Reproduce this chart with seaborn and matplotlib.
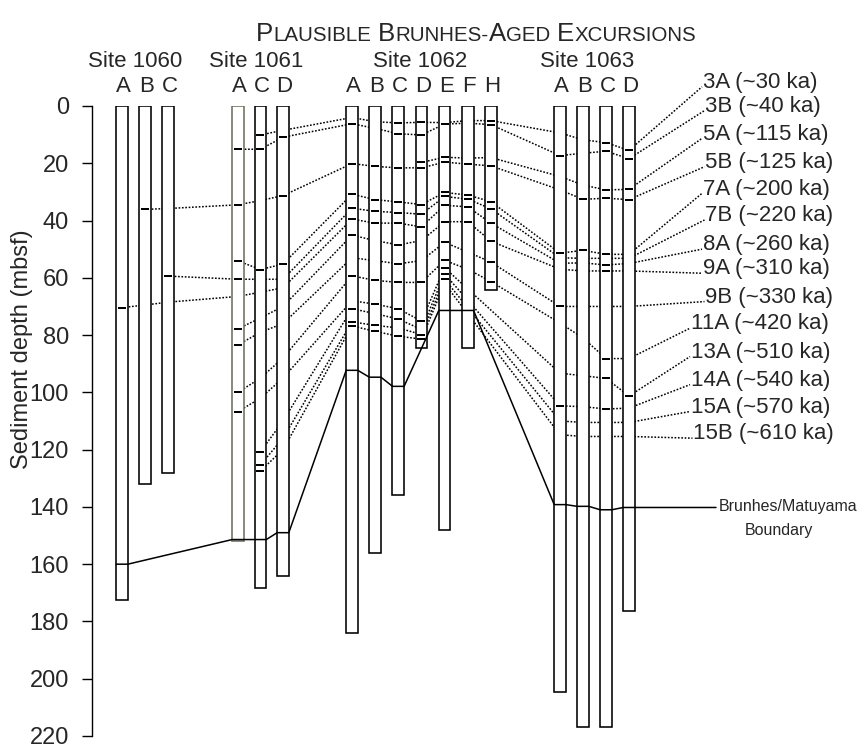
import numpy as np
import pandas as pd
import matplotlib
matplotlib.use("Agg")
import matplotlib.pyplot as plt
import seaborn as sns

sns.set_style("white")
plt.rcParams['font.family'] = ['Liberation Sans', 'DejaVu Sans']

# ---------------- data ----------------
sites = ["Site 1060", "Site 1061", "Site 1062", "Site 1063"]
site_holes = [["A", "B", "C"], ["A", "C", "D"],
              ["A", "B", "C", "D", "E", "F", "H"], ["A", "B", "C", "D"]]
holes = ["1060A", "1060B", "1060C", "1061A", "1061C", "1061D",
         "1062A", "1062B", "1062C", "1062D", "1062E", "1062F", "1062H",
         "1063A", "1063B", "1063C", "1063D"]
hole_bottom = [172.5, 132, 128, 152, 168.2, 164.3,
               184, 156, 136, 84.5, 148, 84.5, 64.4,
               204.5, 217, 217, 176.5]

# Brunhes/Matuyama boundary depth in each hole (None = not drawn)
bm_depth = [160, None, None, 151.4, 151.4, 149,
            92.3, 94.7, 97.9, None, 71.4, 71.4, None,
            139.2, 139.8, 141, 140.2]
bm_end_depth = 140.2

exc_labels = ["3A (~30 ka)", "3B (~40 ka)", "5A (~115 ka)", "5B (~125 ka)",
              "7A (~200 ka)", "7B (~220 ka)", "8A (~260 ka)", "9A (~310 ka)",
              "9B (~330 ka)", "11A (~420 ka)", "13A (~510 ka)", "14A (~540 ka)",
              "15A (~570 ka)", "15B (~610 ka)"]
label_depth = [-6.7, 1.6, 11.3, 21.2, 30.5, 39.8, 50.0, 58.4, 68.3, 77.6,
               87.5, 97.3, 106.7, 116.0]

n = None
# excursion depth in each hole (order as in `holes`)
d_3A  = [n, n, n, n, 10.1, 8.5, 4.0, 5.5, 5.9, 5.7, 5.8, 5.1, 5.1, 9.4, 11.8, 12.8, 15.5]
d_3B  = [n, n, n, 15.1, 15.1, 10.9, 6.2, 7.8, 9.7, 10.1, 6.3, 6.0, 6.5, 17.3, 16.5, 15.8, 18.4]
d_5A  = [n, n, n, n, n, n, n, n, n, 19.7, 17.9, 18.2, 18.0, 24.6, 27.6, 29.3, 29.1]
d_5B  = [n, 36.1, 35.8, 34.5, 33.0, 31.3, 20.1, 21.1, 21.6, 21.6, 19.6, 20.3, 20.9, 29.3, 32.6, 32.2, 32.7]
d_7A  = [n, n, n, 54.1, 57.1, 55.2, 30.8, 32.7, 33.5, 34.4, 30.2, 31.1, 33.4, 51.4, 50.4, 51.8, 51.8]
d_7B  = [n, n, 59.4, 60.5, 60.5, 60.5, 35.7, 36.8, 37.2, 37.8, 31.6, 32.5, 35.9, 53.0, 53.2, 53.2, 53.2]
d_8A  = [70.4, 69.5, 68.5, 66.5, 65.0, 63.5, 39.5, 40.9, 40.9, 42.2, 34.7, 35.2, 40.9, 54.9, 54.8, 55.5, 55.0]
d_9A  = [n, n, n, 77.8, 74.0, 70.0, 45.1, 47.0, 48.5, 47.0, 40.4, 40.4, 47.2, 57.0, 57.6, 57.6, 57.6]
d_9B  = [n, n, n, 83.4, 79.0, 76.0, 53.0, 54.0, 55.1, 54.0, 47.6, 51.0, 54.5, 70.0, 70.0, 70.0, 70.0]
d_11A = [n, n, n, 100.0, 95.0, 88.0, 59.3, 60.9, 61.6, 61.6, 53.9, 57.0, 61.3, 75.8, 81.0, 88.2, 88.2]
d_13A = [n, n, n, 106.7, 102.0, 95.0, 68.0, 69.2, 70.8, 75.1, 56.5, n, n, 93.3, 94.2, 95.1, 101.3]
d_14A = [n, n, n, n, 120.7, 110.0, 70.8, 72.5, 74.4, 78.0, 58.6, n, n, 104.7, 105.0, 105.8, 105.5]
d_15A = [n, n, n, n, 125.3, 116.0, 75.4, 76.6, 77.5, 79.8, 60.5, n, n, 110.0, 110.5, 110.5, 110.5]
d_15B = [n, n, n, n, 127.4, 120.0, 76.8, 78.7, 80.4, 81.4, 62.0, n, n, 114.8, 115.4, 115.4, 115.4]

# holes where the excursion was observed (black marks)
m_3A  = ["1061C", "1062C", "1062D", "1062H", "1063C", "1063D"]
m_3B  = ["1061A", "1061C", "1061D", "1062A", "1062C", "1062D", "1062E", "1062H", "1063A", "1063C", "1063D"]
m_5A  = ["1062D", "1062E", "1063C", "1063D"]
m_5B  = ["1060B", "1061A", "1061D", "1062A", "1062B", "1062C", "1062D", "1062E", "1062F", "1062H", "1063B", "1063C", "1063D"]
m_7A  = ["1061A", "1061C", "1061D", "1062A", "1062B", "1062C", "1062D", "1062E", "1062F", "1062H", "1063A", "1063B", "1063C"]
m_7B  = ["1060C", "1061A", "1062A", "1062B", "1062C", "1062D", "1062E", "1062F", "1062H"]
m_8A  = ["1060A", "1062A", "1062B", "1062C", "1062D", "1062E", "1062F", "1062H", "1063C"]
m_9A  = ["1061A", "1062A", "1062C", "1062E", "1062F", "1062H", "1063C"]
m_9B  = ["1061A", "1062C", "1062E", "1062H", "1063A"]
m_11A = ["1061A", "1062A", "1062B", "1062C", "1062D", "1062E", "1062H", "1063C"]
m_13A = ["1061A", "1062B", "1062C", "1062D", "1062E", "1063C", "1063D"]
m_14A = ["1061C", "1062A", "1062C", "1062E", "1063A", "1063C"]
m_15A = ["1061C", "1062A", "1062B", "1062D", "1062E"]
m_15B = ["1061C", "1062A", "1062B", "1062C", "1062D"]

exc_depths = [d_3A, d_3B, d_5A, d_5B, d_7A, d_7B, d_8A, d_9A, d_9B, d_11A, d_13A, d_14A, d_15A, d_15B]
exc_marks = [m_3A, m_3B, m_5A, m_5B, m_7A, m_7B, m_8A, m_9A, m_9B, m_11A, m_13A, m_14A, m_15A, m_15B]

yticks = [0, 20, 40, 60, 80, 100, 120, 140, 160, 180, 200, 220]

# ---------------- layout ----------------
W, H = 862, 748
site_x0 = [122, 238, 352, 560]
site_step = [23, 22.5, 23.15, 23]
site_label_x = [135, 256, 420, 587]
hole_x = []
for x0, st, hl in zip(site_x0, site_step, site_holes):
    for i in range(len(hl)):
        hole_x.append(x0 + i * st)
hole_pos = dict(zip(holes, hole_x))
col_w = 11.6
half = col_w / 2


def label_x(code):
    tx = 703 if len(code) == 2 else 691
    if code.endswith("B"):
        tx += 2.5
    return tx


FS = 16
fig = plt.figure(figsize=(W / 100, H / 100), dpi=100)
ax = fig.add_axes([92 / W, (H - 736) / H, (W - 92) / W, 630 / H])

# dotted correlation lines (behind the columns)
rows = []
for lab, dd, ld in zip(exc_labels, exc_depths, label_depth):
    code = lab.split()[0]
    for hname, d in zip(holes, dd):
        if d is not None:
            rows.append((code, hole_pos[hname], d))
    rows.append((code, label_x(code) - 1, ld))
lines_df = pd.DataFrame(rows, columns=["exc", "x", "depth"])
sns.lineplot(data=lines_df, x="x", y="depth", units="exc", estimator=None, sort=False,
             color="black", linewidth=1.1, linestyle=(0, (1.1, 1.1)), clip_on=False,
             ax=ax, zorder=1, legend=False)

# core columns
min_step = np.min(np.diff(sorted(hole_x)))
sns.barplot(x=hole_x, y=hole_bottom, native_scale=True, orient="x",
            width=col_w / min_step, color="white", saturation=1,
            edgecolor="black", linewidth=1.15, errorbar=None, ax=ax)
for p, hname in zip(ax.patches, holes):
    p.set_zorder(2)
    p.set_facecolor("white")
    if hname == "1061A":
        p.set_edgecolor("#6e6e60")

# Brunhes/Matuyama boundary
bx, by = [], []
for hname, d in zip(holes, bm_depth):
    if d is not None:
        bx += [hole_pos[hname] - half, hole_pos[hname] + half]
        by += [d, d]
bx.append(716)
by.append(bm_end_depth)
sns.lineplot(x=bx, y=by, sort=False, estimator=None, color="black", linewidth=1.1,
             ax=ax, zorder=3, clip_on=False)

# excursion marks
mk_rows = []
for dd, mm in zip(exc_depths, exc_marks):
    for hname in mm:
        mk_rows.append((hole_pos[hname], dd[holes.index(hname)]))
mk_df = pd.DataFrame(mk_rows, columns=["x", "depth"])
rect = [(-1, -0.22), (1, -0.22), (1, 0.22), (-1, 0.22)]
sns.scatterplot(data=mk_df, x="x", y="depth", marker=rect, s=40, color="black",
                linewidth=0, ax=ax, zorder=4, clip_on=False, legend=False)

# axes styling
ax.set_xlim(92, 862)
ax.set_ylim(220, 0)
ax.set_xticks([])
ax.set_yticks(yticks)
ax.set_yticklabels([str(v) for v in yticks], fontsize=17)
ax.tick_params(axis="y", left=True, direction="out", length=7.2, width=1.0,
               pad=9.5, color="black")
for s in ["top", "right", "bottom"]:
    ax.spines[s].set_visible(False)
ax.spines["left"].set_color("black")
ax.spines["left"].set_linewidth(1.0)
ax.set_xlabel("")
ax.set_ylabel("Sediment depth (mbsf)", fontsize=17)
ax.yaxis.set_label_coords((33 - 92) / 770, (736 - 349) / 630)

# site and hole labels
for sl, sx in zip(sites, site_label_x):
    ax.text(sx, -15.4, sl, ha="center", va="center", fontsize=FS, clip_on=False)
for (hname, x) in zip(holes, hole_x):
    ax.text(x + 1.5, -6.8, hname[-1], ha="center", va="center", fontsize=FS, clip_on=False)

# excursion labels
for lab, ld in zip(exc_labels, label_depth):
    code = lab.split()[0]
    ax.text(label_x(code), ld - 1.5, lab, ha="left", va="center", fontsize=FS, clip_on=False)

ax.text(719, 140.0, "Brunhes/Matuyama", ha="left", va="center", fontsize=11.5, clip_on=False)
ax.text(745, 148.4, "Boundary", ha="left", va="center", fontsize=11.5, clip_on=False)

# small-caps title
title_parts = [("P", True), ("LAUSIBLE", False), (" ", None), ("B", True), ("RUNHES-", False),
               ("A", True), ("GED", False), (" ", None), ("E", True), ("XCURSIONS", False)]
big, small = 18.6, 14.8
renderer = fig.canvas.get_renderer()
widths = []
for s, isbig in title_parts:
    if isbig is None:
        widths.append(0.278 * big * 100 / 72)
        continue
    t = fig.text(0, 0, s, fontsize=big if isbig else small)
    widths.append(t.get_window_extent(renderer).width)
    t.remove()
total = sum(widths)
xc = 476
x = xc - total / 2
base_y = H - 41
for (s, isbig), w in zip(title_parts, widths):
    if isbig is not None:
        fig.text(x / W, base_y / H, s, fontsize=big if isbig else small,
                 ha="left", va="baseline")
    x += w

fig.savefig("out.png", dpi=100)
